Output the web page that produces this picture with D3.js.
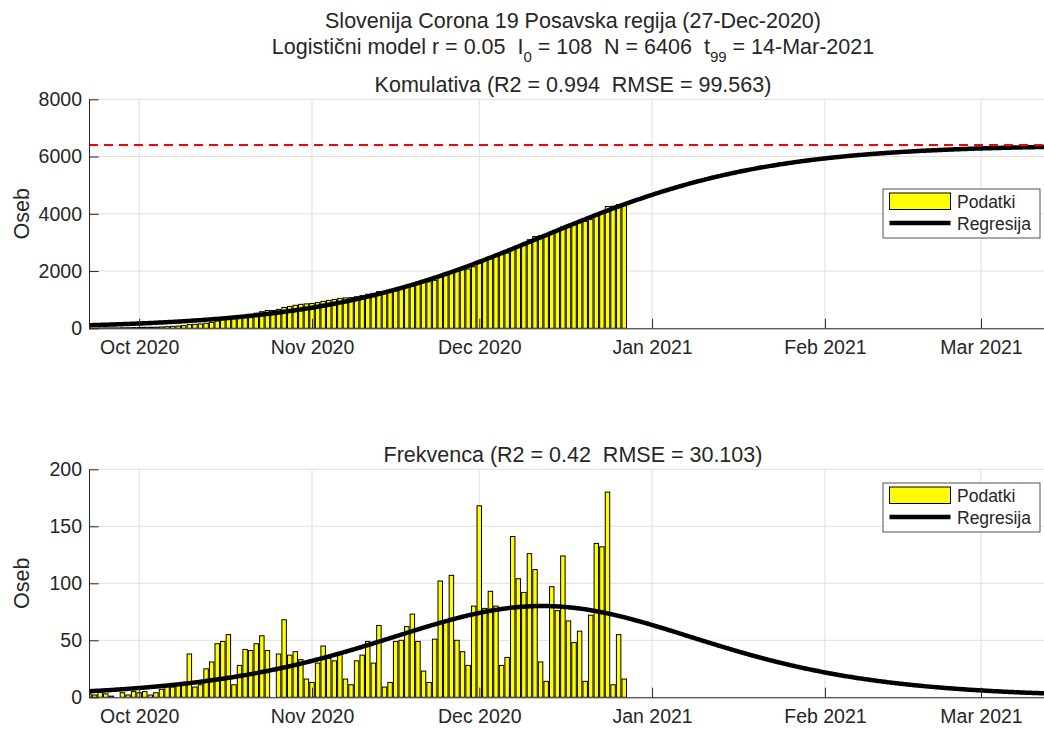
<!DOCTYPE html>
<html>
<head>
<meta charset="utf-8">
<script src="https://cdn.jsdelivr.net/npm/d3@7"></script>
<style>
  body { margin: 0; background: #fff; }
  text { font-family: "Liberation Sans", Arial, Helvetica, sans-serif; fill: #262626; white-space: pre; }
</style>
</head>
<body>
<svg id="chart" width="1044" height="729"></svg>
<script>
// first day of data, last day of data, end of the axis (t99)
var startDay = "2020-09-22";
var lastDay = "2020-12-27";
var endDay = "2021-03-14";

// daily new cases (Posavska regija)
var daily = [3, 2, 5, 3, 1, 0, 4, 2, 5, 4, 5, 2, 4, 7, 11, 9, 12, 13, 38, 9, 11, 25, 31, 47, 49,
    55, 11, 28, 42, 41, 47, 54, 41, 0, 38, 68, 37, 40, 33, 16, 13, 30, 45, 34, 32, 38, 16, 11, 32,
    37, 49, 30, 63, 9, 13, 49, 50, 62, 73, 49, 23, 13, 51, 102, 66, 107, 50, 40, 28, 80, 168, 78, 93, 80,
    28, 35, 141, 104, 92, 126, 112, 31, 14, 97, 76, 124, 67, 48, 58, 14, 72, 135, 132, 180, 11, 55, 16];

// logistic model parameters from the title
var rate = 0.05;
var I0 = 108;
var Ncap = 6406;

var monthTicks = ["2020-10-01", "2020-11-01", "2020-12-01", "2021-01-01", "2021-02-01", "2021-03-01"];
var cumTicks = [0, 2000, 4000, 6000, 8000];
var freqTicks = [0, 50, 100, 150, 200];
var legendLabels = ["Podatki", "Regresija"];

var parse = d3.utcParse("%Y-%m-%d");
var t0 = parse(startDay), tEnd = parse(endDay);
var days = d3.utcDay.range(t0, d3.utcDay.offset(parse(lastDay), 1));
var cumulative = Array.from(d3.cumsum(daily));

var svg = d3.select('#chart');
var axisColor = '#262626', gridColor = '#dfdfdf';
var left = 89, right = 1053.5, tick = 9.6;
var fontTick = 19.5, fontTitle = 21.5;

var x = d3.scaleUtc().domain([t0, tEnd]).range([left, right]);
var dayW = x(d3.utcDay.offset(t0, 1)) - x(t0);

//Model curves, cumulative and daily derivative
function logistic(t) { return Ncap / (1 + (Ncap / I0 - 1) * Math.exp(-rate * t)); }
var modelT = d3.range(0, (tEnd - t0) / 864e5 + 0.25, 0.25);
var cumModel = modelT.map(function(t) { return {t: t, v: logistic(t)}; });
var freqModel = modelT.map(function(t) { var c = logistic(t); return {t: t, v: rate * c * (1 - c / Ncap)}; });

// Super title (two lines)
var sup = svg.append('g').attr('text-anchor', 'middle').style('font-size', fontTitle + 'px');
var cx = 573;
sup.append('text').attr('x', cx).attr('y', 28).text('Slovenija Corona 19 Posavska regija (27-Dec-2020)');
var l2 = sup.append('text').attr('x', cx).attr('y', 54);
l2.append('tspan').text('Logistični model r = ' + rate + '  I');
l2.append('tspan').attr('dy', 8).style('font-size', '15px').text('0');
l2.append('tspan').attr('dy', -8).text(' = ' + I0 + '  N = ' + Ncap + '  t');
l2.append('tspan').attr('dy', 8).style('font-size', '15px').text('99');
l2.append('tspan').attr('dy', -8).text(' = 14-Mar-2021');

function panel(cfg) {
    var g = svg.append('g');
    var y = d3.scaleLinear().domain([0, cfg.ticks[cfg.ticks.length - 1]]).range([cfg.bottom, cfg.top]);

    g.append('defs').append('clipPath').attr('id', cfg.id)
        .append('rect').attr('x', left).attr('y', cfg.top - 2)
        .attr('width', right - left).attr('height', cfg.bottom - cfg.top + 2);

    //Grid lines
    g.append('g').selectAll('line.gy').data(cfg.ticks).enter().append('line')
        .attr('x1', left).attr('x2', right)
        .attr('y1', function(d) { return y(d); }).attr('y2', function(d) { return y(d); })
        .attr('stroke', gridColor).attr('stroke-width', 1);
    g.append('g').selectAll('line.gx').data(monthTicks).enter().append('line')
        .attr('x1', function(d) { return x(parse(d)); }).attr('x2', function(d) { return x(parse(d)); })
        .attr('y1', cfg.top).attr('y2', cfg.bottom)
        .attr('stroke', gridColor).attr('stroke-width', 1);

    var plot = g.append('g').attr('clip-path', 'url(#' + cfg.id + ')');

    plot.selectAll('rect.bar').data(cfg.values).enter().append('rect')
        .attr('class', 'bar')
        .attr('x', function(d, i) { return x(days[i]) - dayW * 0.4; })
        .attr('width', dayW * 0.8)
        .attr('y', function(d) { return y(d); })
        .attr('height', function(d) { return y(0) - y(d); })
        .attr('fill', '#ffff00').attr('stroke', '#000').attr('stroke-width', 1);

    var line = d3.line()
        .x(function(d) { return x(d3.utcHour.offset(t0, d.t * 24)); })
        .y(function(d) { return y(d.v); });
    plot.append('path').datum(cfg.model).attr('d', line)
        .attr('fill', 'none').attr('stroke', '#000').attr('stroke-width', 4.5);

    if (cfg.asymptote) {
        plot.append('line').attr('x1', left).attr('x2', right)
            .attr('y1', y(Ncap)).attr('y2', y(Ncap))
            .attr('stroke', '#ff0000').attr('stroke-width', 2).attr('stroke-dasharray', '9,6');
    }

    //Axes with inward ticks
    var ya = g.append('g').attr('transform', 'translate(' + left + ',0)')
        .call(d3.axisLeft(y).tickValues(cfg.ticks).tickFormat(d3.format('d'))
            .tickSize(-tick).tickSizeOuter(0).tickPadding(7));
    var xa = g.append('g').attr('transform', 'translate(0,' + cfg.bottom + ')')
        .call(d3.axisBottom(x).tickValues(monthTicks.map(parse)).tickFormat(d3.utcFormat('%b %Y'))
            .tickSize(-tick).tickSizeOuter(0).tickPadding(12));
    [ya, xa].forEach(function(a) {
        a.select('.domain').attr('stroke', axisColor);
        a.selectAll('line').attr('stroke', axisColor);
        a.selectAll('text').attr('fill', axisColor).style('font-size', fontTick + 'px').attr('font-family', null);
    });

    g.append('text').attr('transform', 'translate(29,' + (cfg.top + cfg.bottom) / 2 + ') rotate(-90)')
        .attr('text-anchor', 'middle').style('font-size', fontTitle + 'px').text('Oseb');

    g.append('text').attr('x', cx).attr('y', cfg.top - 7).attr('text-anchor', 'middle')
        .style('font-size', fontTitle + 'px').text(cfg.title);

    //Legend
    var lg = g.append('g').attr('transform', 'translate(' + cfg.legend[0] + ',' + cfg.legend[1] + ')');
    lg.append('rect').attr('width', 157).attr('height', 49)
        .attr('fill', '#fff').attr('stroke', axisColor).attr('stroke-width', 0.8);
    lg.append('rect').attr('x', 6.5).attr('y', 4).attr('width', 61).attr('height', 16.5)
        .attr('fill', '#ffff00').attr('stroke', '#000').attr('stroke-width', 1);
    lg.append('line').attr('x1', 6.5).attr('x2', 67.5).attr('y1', 34).attr('y2', 34)
        .attr('stroke', '#000').attr('stroke-width', 4.5);
    lg.selectAll('text').data(legendLabels).enter().append('text')
        .attr('x', 74).attr('y', function(d, i) { return 19 + i * 22; })
        .style('font-size', '17.5px').text(function(d) { return d; });
}

panel({ id: 'clipTop', top: 99.3, bottom: 328.3, ticks: cumTicks, values: cumulative, model: cumModel,
    asymptote: true, title: 'Komulativa (R2 = 0.994  RMSE = 99.563)', legend: [883, 189] });
panel({ id: 'clipBot', top: 469.3, bottom: 697.3, ticks: freqTicks, values: daily, model: freqModel,
    asymptote: false, title: 'Frekvenca (R2 = 0.42  RMSE = 30.103)', legend: [883, 483] });
</script>
</body>
</html>
